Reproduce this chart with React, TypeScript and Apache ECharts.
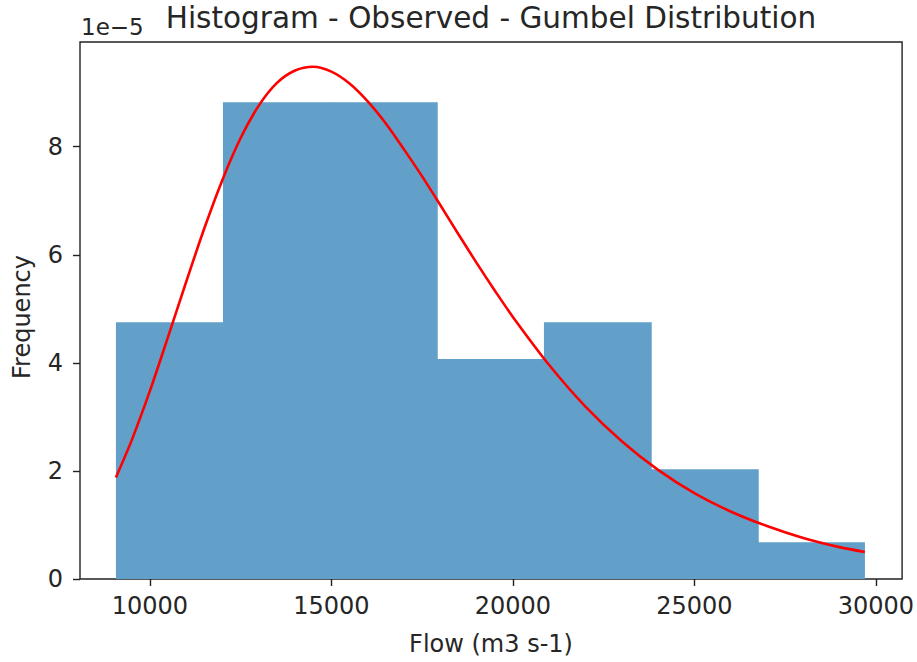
import React, { useEffect, useRef } from "react";
import * as echarts from "echarts";

// Histogram bins (flow, m3 s-1) and densities (units of 1e-5)
const binEdges = [9064, 12012, 14960, 17908, 20856, 23804, 26752, 29700];
const binDensity = [4.75, 8.82, 8.82, 4.07, 4.75, 2.03, 0.68];

// Fitted Gumbel curve (density in units of 1e-5)
const curveX = [9064, 9500, 10000, 10500, 11000, 11500, 12000, 12500, 13000, 13500, 14000, 14500, 15000, 15500, 16000, 16500, 17000, 17500, 18000, 18500, 19000, 19500, 20000, 21000, 22000, 23000, 24000, 25000, 26000, 27000, 28000, 29000, 29700];
const curveY = [1.88, 2.57, 3.48, 4.48, 5.5, 6.49, 7.39, 8.16, 8.76, 9.18, 9.41, 9.48, 9.39, 9.17, 8.84, 8.43, 7.95, 7.45, 6.92, 6.38, 5.85, 5.34, 4.85, 3.96, 3.19, 2.55, 2.02, 1.59, 1.25, 0.98, 0.76, 0.59, 0.5];

const xTicks = [10000, 15000, 20000, 25000, 30000];
const yTicks = [0, 2, 4, 6, 8];

const FONT = "'DejaVu Sans', sans-serif";
const TXT = "#262626";

export default function App() {
  const ref = useRef<HTMLDivElement>(null);
  useEffect(() => {
    if (!ref.current) return;
    const chart = echarts.init(ref.current, null, { renderer: "svg" });
    const bars = binDensity.map((h, i) => [binEdges[i], binEdges[i + 1], h]);
    const curve = curveX.map((x, i) => [x, curveY[i]]);
    chart.setOption({
      animation: false,
      backgroundColor: "#ffffff",
      textStyle: { fontFamily: FONT },
      grid: {
        left: 80,
        right: 14,
        top: 42,
        bottom: 83,
        show: true,
        borderColor: "#222",
        borderWidth: 1.4,
        backgroundColor: "transparent",
      },
      xAxis: {
        type: "value",
        min: 8074,
        max: 30724,
        splitLine: { show: false },
        axisLine: { show: false },
        axisTick: { show: true, length: 7, lineStyle: { color: "#222", width: 1.4 }, customValues: xTicks },
        axisLabel: {
          customValues: xTicks,
          color: TXT,
          fontSize: 24,
          fontFamily: FONT,
          margin: 15,
          formatter: (v: number) => String(v),
        },
      },
      yAxis: {
        type: "value",
        min: 0,
        max: 9.937,
        splitLine: { show: false },
        axisLine: { show: false },
        axisTick: { show: true, length: 7, lineStyle: { color: "#222", width: 1.4 }, customValues: yTicks },
        axisLabel: {
          customValues: yTicks,
          color: TXT,
          fontSize: 24,
          fontFamily: FONT,
          margin: 17,
          formatter: (v: number) => String(v),
        },
      },
      graphic: [
        {
          type: "text",
          x: 491,
          y: 18,
          style: {
            text: "Histogram - Observed - Gumbel Distribution",
            fontSize: 29.5,
            fontFamily: FONT,
            fill: TXT,
            textAlign: "center",
            textVerticalAlign: "middle",
          },
        },
        {
          type: "text",
          x: 81,
          y: 27,
          style: {
            text: "1e\u22125",
            fontSize: 23,
            fontFamily: FONT,
            fill: TXT,
            textAlign: "left",
            textVerticalAlign: "middle",
          },
        },
        {
          type: "text",
          x: 491,
          y: 644,
          style: {
            text: "Flow (m3 s-1)",
            fontSize: 24,
            fontFamily: FONT,
            fill: TXT,
            textAlign: "center",
            textVerticalAlign: "middle",
          },
        },
        {
          type: "text",
          x: 22,
          y: 317,
          rotation: Math.PI / 2,
          style: {
            text: "Frequency",
            fontSize: 24,
            fontFamily: FONT,
            fill: TXT,
            textAlign: "center",
            textVerticalAlign: "middle",
          },
        },
      ],
      series: [
        {
          type: "custom",
          data: bars,
          encode: { x: [0, 1], y: 2 },
          renderItem: (params: any, api: any) => {
            const x0 = api.value(0);
            const x1 = api.value(1);
            const h = api.value(2);
            const p0 = api.coord([x0, h]);
            const p1 = api.coord([x1, 0]);
            const isLast = params.dataIndex === binDensity.length - 1;
            return {
              type: "rect",
              shape: {
                x: p0[0],
                y: p0[1],
                width: p1[0] - p0[0] + (isLast ? 0 : 0.8),
                height: p1[1] - p0[1],
              },
              style: { fill: "#62a0ca" },
            };
          },
          z: 1,
        },
        {
          type: "line",
          data: curve,
          showSymbol: false,
          smooth: 0.3,
          lineStyle: { color: "#ff0000", width: 2.6 },
          z: 3,
        },
      ],
    });
    return () => chart.dispose();
  }, []);
  return <div ref={ref} style={{ position: "absolute", left: 0, top: 0, width: 917, height: 662 }} />;
}
